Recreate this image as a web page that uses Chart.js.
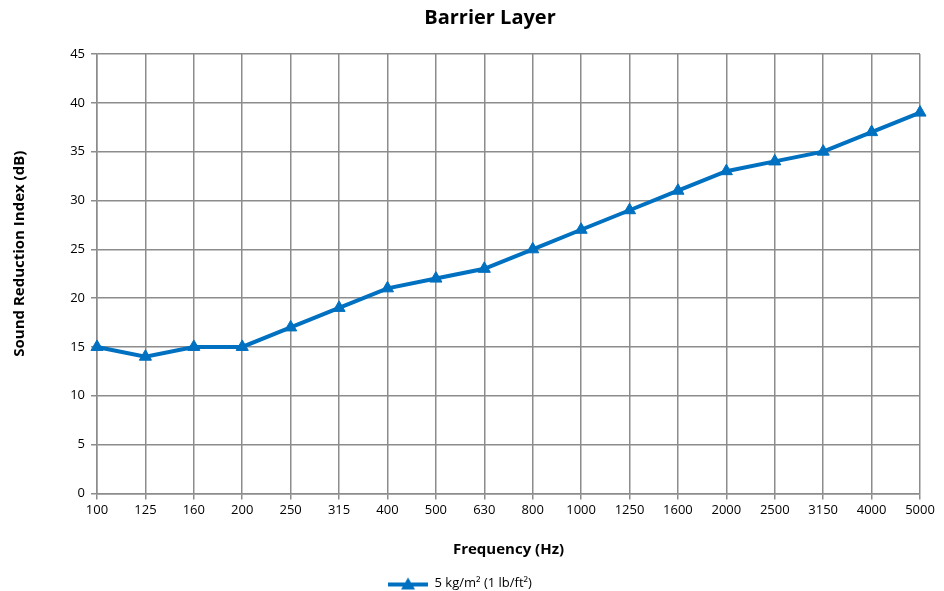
<!DOCTYPE html>
<html>
<head>
<meta charset="utf-8">
<script src="https://cdn.jsdelivr.net/npm/chart.js@4.4.0/dist/chart.umd.min.js"></script>
<style>
  html, body { margin: 0; padding: 0; background: #fff; }
  #wrap { width: 944px; height: 591px; }
</style>
</head>
<body>
<div id="wrap"><canvas id="chart" width="944" height="591"></canvas></div>
<script>
const frequencies = ["100", "125", "160", "200", "250", "315", "400", "500", "630", "800",
  "1000", "1250", "1600", "2000", "2500", "3150", "4000", "5000"];
const reductionIndex = [15, 14, 15, 15, 17, 19, 21, 22, 23, 25, 27, 29, 31, 33, 34, 35, 37, 39];
const seriesName = "5 kg/m² (1 lb/ft²)";
const yTitle = "Sound Reduction Index (dB)";

const blue = "#0070C0";
const gridGray = "#8c8c8c";
const fontFamily = "'Open Sans', 'Noto Sans', sans-serif";

// legend symbol: short line with a triangle on it, like Excel
const marker = document.createElement("canvas");
marker.width = 40;
marker.height = 14;
const mctx = marker.getContext("2d");
mctx.strokeStyle = blue;
mctx.lineWidth = 4;
mctx.beginPath();
mctx.moveTo(0, 8);
mctx.lineTo(40, 8);
mctx.stroke();
mctx.fillStyle = blue;
mctx.beginPath();
mctx.moveTo(20, 1);
mctx.lineTo(27, 13);
mctx.lineTo(13, 13);
mctx.closePath();
mctx.fill();

// Excel puts the chart title a bit right of the canvas centre and the
// y title a bit above the plot centre
const titleTweaks = {
  id: "titleTweaks",
  afterLayout(chart) {
    chart.titleBlock.left += 60;
  },
  afterDraw(chart) {
    const ctx = chart.ctx;
    const cy = (chart.chartArea.top + chart.chartArea.bottom) / 2 - 20;
    ctx.save();
    ctx.translate(20, cy);
    ctx.rotate(-Math.PI / 2);
    ctx.fillStyle = "#000";
    ctx.font = "bold 15px " + fontFamily;
    ctx.textAlign = "center";
    ctx.textBaseline = "middle";
    ctx.fillText(yTitle, 0, 0);
    ctx.restore();
  }
};

new Chart(document.getElementById("chart"), {
  type: "line",
  data: {
    labels: frequencies,
    datasets: [{
      label: seriesName,
      data: reductionIndex,
      borderColor: blue,
      backgroundColor: blue,
      borderWidth: 4,
      pointStyle: "triangle",
      pointRadius: 7,
      pointHoverRadius: 7,
      pointBackgroundColor: blue,
      pointBorderColor: blue,
      pointBorderWidth: 1,
      tension: 0,
    }],
  },
  options: {
    responsive: false,
    animation: false,
    layout: { padding: { left: 0, right: 24, top: 0, bottom: -9 } },
    plugins: {
      title: {
        display: true,
        text: "Barrier Layer",
        color: "#000",
        font: { family: fontFamily, size: 20, weight: "bold" },
        padding: { top: 6, bottom: 24 },
      },
      legend: {
        position: "bottom",
        labels: {
          color: "#000",
          font: { family: fontFamily, size: 13 },
          usePointStyle: true,
          pointStyle: marker,
          pointStyleWidth: 40,
          boxHeight: 14,
          padding: 2,
        },
      },
      tooltip: { enabled: false },
    },
    scales: {
      x: {
        offset: false,
        grid: { color: gridGray, lineWidth: 1.5, tickLength: 6 },
        border: { color: gridGray, width: 1.5 },
        ticks: { color: "#000", font: { family: fontFamily, size: 13 }, maxRotation: 0, autoSkip: false, padding: 3 },
        title: {
          display: true,
          text: "Frequency (Hz)",
          color: "#000",
          font: { family: fontFamily, size: 15, weight: "bold" },
          padding: { top: 20, bottom: 16 },
        },
      },
      y: {
        min: 0,
        max: 45,
        ticks: { stepSize: 5, color: "#000", font: { family: fontFamily, size: 13 }, padding: 6 },
        grid: { color: gridGray, lineWidth: 1.5, tickLength: 6 },
        border: { color: gridGray, width: 1.5 },
        title: { display: false },
        afterFit(scale) { scale.width = 97; },
      },
    },
  },
  plugins: [titleTweaks],
});
</script>
</body>
</html>
